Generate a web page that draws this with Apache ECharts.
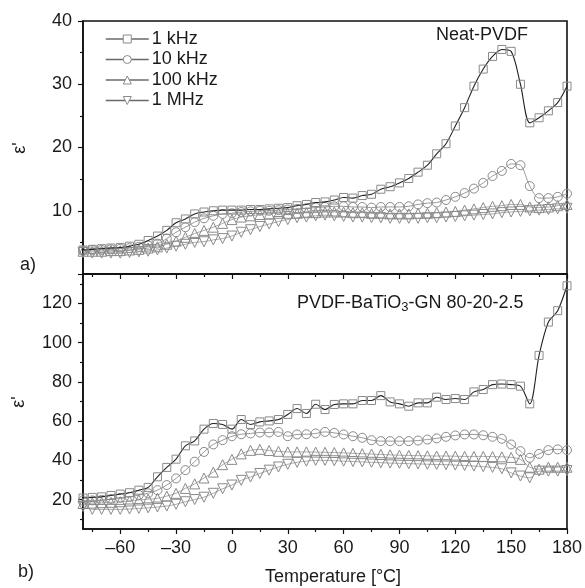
<!DOCTYPE html>
<html><head><meta charset="utf-8">
<script src="https://cdn.jsdelivr.net/npm/echarts@6/dist/echarts.min.js"></script>
<style>html,body{margin:0;padding:0;background:#fff}#c{width:585px;height:588px}</style>
</head><body><div id="c"></div><script>
const temperatures = [-80,-75,-70,-65,-60,-55,-50,-45,-40,-35,-30,-25,-20,-15,-10,-5,0,5,10,15,20,25,30,35,40,45,50,55,60,65,70,75,80,85,90,95,100,105,110,115,120,125,130,135,140,145,150,155,160,165,170,175,180];

// (a) Neat-PVDF
const topKHz1 = [3.8,3.9,4.0,4.1,4.2,4.4,4.7,5.3,6.0,6.9,8.1,8.7,9.5,9.8,10.0,10.1,10.1,10.1,10.2,10.2,10.3,10.4,10.5,10.8,11.0,11.3,11.4,11.7,12.1,12.0,12.4,12.6,13.4,13.8,14.4,15.1,16.1,17.2,19.0,20.6,23.4,26.3,29.7,32.4,34.4,35.5,35.2,30.0,23.9,24.7,25.8,27.1,29.7];
const topKHz10 = [3.7,3.8,3.8,3.9,4.0,4.1,4.3,4.5,4.8,5.6,6.6,7.4,8.2,8.8,9.2,9.5,9.6,9.8,9.9,10.0,10.0,10.1,10.2,10.3,10.4,10.5,10.6,10.7,10.7,10.6,10.6,10.5,10.6,10.6,10.6,10.7,11.0,11.2,11.3,11.7,12.2,12.8,13.5,14.4,15.5,16.3,17.4,17.2,13.9,12.0,12.0,12.2,12.7];
const topKHz100 = [3.6,3.6,3.6,3.7,3.7,3.8,3.9,4.1,4.3,4.7,5.2,5.8,6.4,6.9,7.4,8.0,8.6,9.0,9.2,9.4,9.5,9.6,9.6,9.6,9.7,9.7,9.8,9.8,9.8,9.7,9.7,9.6,9.6,9.5,9.5,9.5,9.6,9.6,9.7,9.8,9.9,10.1,10.3,10.5,10.7,10.8,11.0,11.0,10.6,10.5,10.6,10.8,11.0];
const topMHz1 = [3.4,3.3,3.3,3.3,3.3,3.4,3.5,3.6,3.8,4.1,4.4,4.7,5.0,5.1,5.4,5.6,6.0,6.6,7.0,7.5,7.9,8.3,8.6,8.9,9.0,9.2,9.3,9.2,9.1,9.0,9.0,8.9,8.9,8.8,8.8,8.8,8.8,8.9,8.9,9.0,9.1,9.2,9.3,9.4,9.5,9.7,9.8,9.9,10.0,10.1,10.2,10.3,10.4];

// (b) PVDF-BaTiO3-GN 80-20-2.5
const botKHz1 = [20.8,21.1,21.4,22.1,22.8,23.5,24.8,26.2,31.6,36.4,40.6,47.4,49.9,55.9,58.8,58.3,55.9,60.8,58.3,59.6,60.1,60.8,63.4,66.4,63.9,68.6,65.9,68.5,68.8,68.8,70.5,70.5,73.0,69.8,68.8,67.6,69.3,69.3,72.2,71.0,71.5,71.0,74.9,76.1,78.6,78.9,78.6,77.8,68.8,93.5,110.5,116.3,129.0];
const botKHz10 = [19.5,19.6,19.8,20.3,20.9,21.4,22.3,23.2,24.8,27.4,30.8,35.0,39.3,44.3,48.1,50.3,52.3,53.3,53.7,54.2,54.2,54.5,52.3,53.2,53.3,53.7,54.5,54.0,53.2,52.3,51.5,50.3,49.8,49.8,49.8,49.8,50.1,50.6,51.2,52.0,52.7,53.2,53.2,52.8,52.0,51.0,48.1,44.7,41.3,43.3,45.2,45.6,45.2];
const botKHz100 = [18.0,18.2,18.4,18.6,18.9,19.3,19.8,20.2,20.6,21.8,23.2,25.7,28.0,31.0,34.0,37.8,40.5,43.3,45.1,45.6,45.0,44.6,44.3,44.3,44.3,44.2,44.1,44.0,43.8,43.6,43.4,43.2,43.0,42.8,42.6,42.5,42.4,42.3,42.2,42.2,42.1,42.0,42.0,42.0,41.9,41.8,41.5,40.5,36.5,35.5,36.5,36.5,36.5];
const botMHz1 = [16.5,15.0,15.0,15.0,15.0,15.2,15.5,15.8,16.2,16.7,17.6,18.9,20.0,21.2,23.2,25.5,27.4,29.8,31.5,33.3,35.0,36.6,38.0,39.0,39.6,40.0,40.0,39.8,39.6,39.4,39.2,39.0,38.8,38.6,38.5,38.3,38.2,38.0,37.9,37.8,37.6,37.4,37.1,36.8,36.4,35.7,33.6,32.0,31.1,34.5,34.5,34.5,34.8];

const seriesNames = ['1 kHz','10 kHz','100 kHz','1 MHz'];
const xMajorTicks = [-60,-30,0,30,60,90,120,150,180];
const xMinorTicks = [-75,-45,-15,15,45,75,105,135,165];
const yBotMajorTicks = [20,40,60,80,100,120];
const yBotMinorTicks = [10,30,50,70,90,110,130];

const FONT = 'Liberation Sans, Arial, sans-serif';
const FS = 18;
const TXT = '#1a1a1a';
const AX = '#111';
const MK = '#8a8a8a';

const pairs = arr => temperatures.map((t, i) => [t, arr[i]]);

const G = [
  {left: 83, top: 21, width: 484, height: 253},
  {left: 83, top: 274, width: 484, height: 255}
];

const styles = {
  '1 kHz': {symbol: 'rect', size: 8, rot: 0, line: '#222', lw: 1.1},
  '10 kHz': {symbol: 'circle', size: 9, rot: 0, line: '#9a9a9a', lw: 1},
  '100 kHz': {symbol: 'triangle', size: 10, rot: 0, line: '#aaaaaa', lw: 1},
  '1 MHz': {symbol: 'triangle', size: 10, rot: 180, line: '#aaaaaa', lw: 1}
};

function mk(name, arr, axisIdx) {
  const s = styles[name];
  return {
    name, type: 'line', xAxisIndex: axisIdx, yAxisIndex: axisIdx,
    data: pairs(arr), smooth: 0.3, symbol: s.symbol, symbolSize: s.size, symbolRotate: s.rot,
    showAllSymbol: true,
    lineStyle: {color: s.line, width: s.lw},
    itemStyle: {color: 'rgba(255,255,255,0)', borderColor: MK, borderWidth: 1},
    emphasis: {disabled: true}, animation: false, z: name === '1 kHz' ? 5 : 3
  };
}

const baseX = (gi) => ({
  type: 'value', gridIndex: gi, min: -80, max: 180,
  axisLine: {show: true, onZero: false, lineStyle: {color: AX, width: 1.6}},
  splitLine: {show: false}
});

const chart = echarts.init(document.getElementById('c'));
chart.setOption({
  animation: false,
  backgroundColor: '#fff',
  textStyle: {fontFamily: FONT},
  grid: [
    Object.assign({show: true, borderColor: AX, borderWidth: 1.6, backgroundColor: 'transparent'}, G[0]),
    Object.assign({show: true, borderColor: AX, borderWidth: 1.6, backgroundColor: 'transparent'}, G[1]),
    Object.assign({}, G[0]),
    Object.assign({}, G[1])
  ],
  xAxis: [
    Object.assign(baseX(0), {
      axisTick: {show: true, length: 5, lineStyle: {color: AX, width: 1.2}, customValues: xMajorTicks},
      axisLabel: {show: false}
    }),
    Object.assign(baseX(1), {
      axisTick: {show: true, length: 5, lineStyle: {color: AX, width: 1.2}, customValues: xMajorTicks},
      axisLabel: {show: true, customValues: xMajorTicks, margin: 10, fontSize: FS, color: TXT, fontFamily: FONT,
        formatter: v => String(v).replace('-', '\u2013')}
    }),
    Object.assign(baseX(2), {
      axisLine: {show: false, onZero: false},
      axisTick: {show: true, length: 3, lineStyle: {color: AX, width: 1.2}, customValues: xMinorTicks},
      axisLabel: {show: false}
    }),
    Object.assign(baseX(3), {
      axisLine: {show: false, onZero: false},
      axisTick: {show: true, length: 3, lineStyle: {color: AX, width: 1.2}, customValues: xMinorTicks},
      axisLabel: {show: false}
    })
  ],
  yAxis: [
    {type: 'value', gridIndex: 0, min: 0, max: 40, interval: 10,
      axisLine: {show: true, onZero: false, lineStyle: {color: AX, width: 1.6}},
      axisTick: {show: true, length: 5, lineStyle: {color: AX, width: 1.2}},
      minorTick: {show: true, splitNumber: 2, length: 3, lineStyle: {color: AX, width: 1.2}},
      axisLabel: {showMinLabel: false, fontSize: FS, color: TXT, margin: 11, fontFamily: FONT},
      splitLine: {show: false}},
    {type: 'value', gridIndex: 1, min: 5, max: 135,
      axisLine: {show: true, onZero: false, lineStyle: {color: AX, width: 1.6}},
      axisTick: {show: true, length: 5, lineStyle: {color: AX, width: 1.2}, customValues: yBotMajorTicks},
      axisLabel: {show: true, customValues: yBotMajorTicks, fontSize: FS, color: TXT, margin: 11, fontFamily: FONT},
      splitLine: {show: false}},
    {type: 'value', gridIndex: 2, min: 0, max: 40, show: false, axisLine: {onZero: false}},
    {type: 'value', gridIndex: 3, min: 5, max: 135,
      axisLine: {show: false, onZero: false},
      axisTick: {show: true, length: 3, lineStyle: {color: AX, width: 1.2}, customValues: yBotMinorTicks},
      axisLabel: {show: false}, splitLine: {show: false}}
  ],
  legend: {
    data: seriesNames, orient: 'vertical', left: 100, top: 25,
    itemWidth: 43, itemHeight: 10, itemGap: 2.5,
    textStyle: {fontSize: FS, color: TXT, fontFamily: FONT, padding: [0, 0, 0, -2]},
    itemStyle: {color: '#fff', borderColor: MK, borderWidth: 1},
    lineStyle: {color: '#6a6a6a', width: 1.5},
    selectedMode: false
  },
  series: [
    mk('1 MHz', topMHz1, 0), mk('100 kHz', topKHz100, 0), mk('10 kHz', topKHz10, 0), mk('1 kHz', topKHz1, 0),
    mk('1 MHz', botMHz1, 1), mk('100 kHz', botKHz100, 1), mk('10 kHz', botKHz10, 1), mk('1 kHz', botKHz1, 1)
  ],
  graphic: [
    {type: 'text', x: 436, y: 35, style: {text: 'Neat-PVDF', font: FS + 'px ' + FONT, fill: TXT, align: 'left', verticalAlign: 'middle'}},
    {type: 'text', x: 297, y: 303, style: {
      text: '{a|PVDF-BaTiO}{s|3}{a|-GN 80-20-2.5}', align: 'left', verticalAlign: 'middle',
      rich: {a: {fontSize: FS, fontFamily: FONT, fill: TXT, lineHeight: 21, verticalAlign: 'middle'},
             s: {fontSize: 13, fontFamily: FONT, fill: TXT, lineHeight: 10, verticalAlign: 'bottom'}}}},
    {type: 'text', x: 20, y: 148, rotation: Math.PI / 2, style: {text: "\u03b5'", font: FS + 'px ' + FONT, fill: TXT, align: 'center', verticalAlign: 'middle'}},
    {type: 'text', x: 19, y: 402, rotation: Math.PI / 2, style: {text: "\u03b5'", font: FS + 'px ' + FONT, fill: TXT, align: 'center', verticalAlign: 'middle'}},
    {type: 'text', x: 28, y: 265, style: {text: 'a)', font: FS + 'px ' + FONT, fill: TXT, align: 'center', verticalAlign: 'middle'}},
    {type: 'text', x: 26, y: 572, style: {text: 'b)', font: FS + 'px ' + FONT, fill: TXT, align: 'center', verticalAlign: 'middle'}},
    {type: 'text', x: 333, y: 577, style: {text: 'Temperature [\u00b0C]', font: FS + 'px ' + FONT, fill: TXT, align: 'center', verticalAlign: 'middle'}}
  ]
});
</script></body></html>
